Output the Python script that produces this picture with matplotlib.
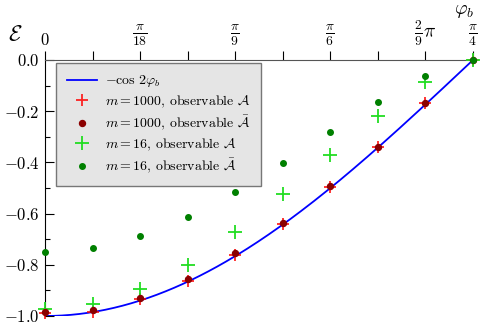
import numpy as np
import matplotlib
matplotlib.use("Agg")
import matplotlib.pyplot as plt
from matplotlib.ticker import FixedLocator, FixedFormatter, MultipleLocator

plt.rcParams['mathtext.fontset'] = 'cm'
plt.rcParams['font.family'] = ['cmr10', 'DejaVu Serif']
plt.rcParams['axes.formatter.use_mathtext'] = True

# phi_b = k * pi/36, k = 0..9
k = np.arange(10)
phi = k * np.pi / 36

a_m1000 = [-0.990, -0.983, -0.935, -0.863, -0.760, -0.640, -0.495, -0.339, -0.169, 0.0]
abar_m1000 = [-0.986, -0.977, -0.930, -0.857, -0.755, -0.637, -0.494, -0.338, -0.168, 0.0]
a_m16 = [-0.974, -0.954, -0.896, -0.800, -0.673, -0.525, -0.371, -0.218, -0.085, 0.0]
abar_m16 = [-0.749, -0.733, -0.686, -0.612, -0.516, -0.404, -0.283, -0.165, -0.063, 0.0]

xtick_vals = [0, np.pi / 18, np.pi / 9, np.pi / 6, 2 * np.pi / 9, np.pi / 4]
xtick_labels = [r'$0$', r'$\frac{\pi}{18}$', r'$\frac{\pi}{9}$', r'$\frac{\pi}{6}$',
                r'$\frac{2}{9}\pi$', r'$\frac{\pi}{4}$']
ytick_vals = [-1.0, -0.8, -0.6, -0.4, -0.2, 0.0]
ytick_labels = [r'$-1.0$', r'$-0.8$', r'$-0.6$', r'$-0.4$', r'$-0.2$', r'$0.0$']

fig = plt.figure(figsize=(4.81, 3.27), dpi=100)
ax = fig.add_axes([45 / 481, 1 - 316 / 327, 428 / 481, 256 / 327])

xs = np.linspace(0, np.pi / 4, 200)
ax.plot(xs, -np.cos(2 * xs), color='blue', lw=1.3, label=r'$-\cos\,2\varphi_b$', zorder=2)
ax.plot(phi, a_m1000, '+', color='red', ms=9, mew=1.3, alpha=0.85,
        label=r'$m=1000$, observable $\mathcal{A}$', clip_on=False, zorder=3)
ax.plot(phi, abar_m1000, 'o', color='darkred', ms=4.3,
        label=r'$m=1000$, observable $\bar{\mathcal{A}}$', clip_on=False, zorder=4)
ax.plot(phi, a_m16, '+', color='#22dd22', ms=10, mew=1.3,
        label=r'$m=16$, observable $\mathcal{A}$', clip_on=False, zorder=3)
ax.plot(phi, abar_m16, 'o', color='green', ms=4,
        label=r'$m=16$, observable $\bar{\mathcal{A}}$', clip_on=False, zorder=4)

ax.set_xlim(0, np.pi / 4)
ax.set_ylim(-1.0, 0.0)

ax.spines['right'].set_visible(False)
ax.spines['bottom'].set_visible(False)
ax.spines['top'].set_color('#555555')

ax.xaxis.tick_top()
ax.xaxis.set_major_locator(FixedLocator(xtick_vals))
ax.xaxis.set_major_formatter(FixedFormatter(xtick_labels))
ax.xaxis.set_minor_locator(MultipleLocator(np.pi / 36))
ax.tick_params(axis='x', which='both', direction='out', length=6.5, width=0.8,
               labelsize=14, pad=2)
for i, t in enumerate(ax.get_xticklabels()):
    if i == 0:
        t.set_fontsize(12)

ax.yaxis.set_major_locator(FixedLocator(ytick_vals))
ax.yaxis.set_major_formatter(FixedFormatter(ytick_labels))
ax.yaxis.set_minor_locator(MultipleLocator(0.1))
ax.tick_params(axis='y', which='major', direction='in', length=6.5, width=0.8,
               labelsize=12, pad=4)
ax.tick_params(axis='y', which='minor', direction='in', length=3.5, width=0.8)

fig.text(15 / 481, 1 - 35 / 327, r'$\mathcal{E}$', fontsize=16, ha='center', va='center')
fig.text(464 / 481, 1 - 11 / 327, r'$\varphi_b$', fontsize=14, ha='center', va='center')

leg = ax.legend(loc='upper left', bbox_to_anchor=(0.026, 0.988), borderaxespad=0,
                fontsize=10, fancybox=False, framealpha=1, borderpad=0.75,
                labelspacing=0.3, handlelength=2.2, handletextpad=0.6)
leg.get_frame().set_facecolor('#e5e5e5')
leg.get_frame().set_edgecolor('#777777')

fig.savefig('out.png', dpi=100)
